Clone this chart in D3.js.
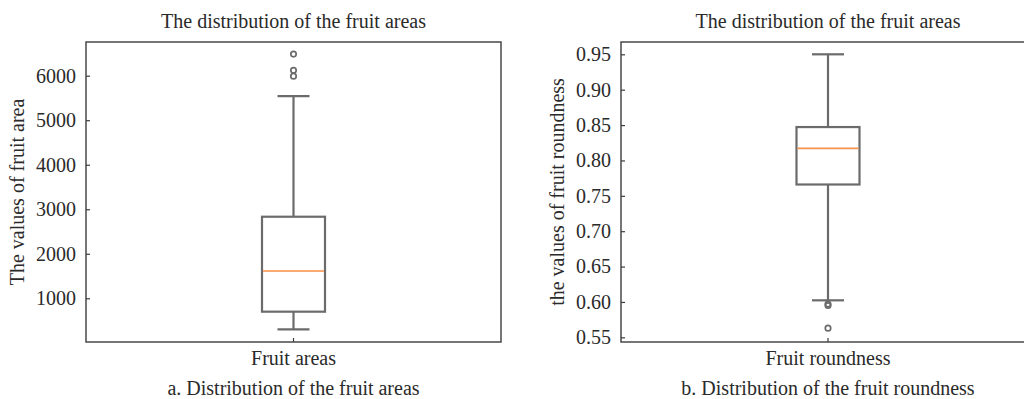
<!DOCTYPE html>
<html>
<head>
<meta charset="utf-8">
<script src="https://cdn.jsdelivr.net/npm/d3@7"></script>
<style>
  html, body { margin: 0; padding: 0; background: #fff; }
  svg { display: block; }
  text { font-family: "Liberation Serif", "Times New Roman", serif; fill: #2a2a2a; }
</style>
</head>
<body>
<svg id="chart" width="1024" height="399"></svg>
<script>
// ---- data ----
const titles = ["The distribution of the fruit areas", "The distribution of the fruit areas"];
const categories = ["Fruit areas", "Fruit roundness"];
const yLabels = ["The values of fruit area", "the values of fruit roundness"];
const captions = ["a. Distribution of the fruit areas", "b. Distribution of the fruit roundness"];

const whiskerLow = [303, 0.6023];
const q1 = [699, 0.766];
const median = [1613, 0.817];
const q3 = [2832, 0.8472];
const whiskerHigh = [5543, 0.95];
const outliersArea = [5990, 6120, 6485];
const outliersRound = [0.597, 0.595, 0.563];

const yLimitsArea = [18, 6757];
const yLimitsRound = [0.5434, 0.9674];
const yTicksArea = [1000, 2000, 3000, 4000, 5000, 6000];
const yTicksRound = [0.55, 0.60, 0.65, 0.70, 0.75, 0.80, 0.85, 0.90, 0.95];

// ---- layout ----
const svg = d3.select("#chart");
const panels = [
  { left: 86, right: 501, limits: yLimitsArea, ticks: yTicksArea, fmt: d3.format("d"), outliers: outliersArea, ylabX: 17 },
  { left: 621, right: 1035, limits: yLimitsRound, ticks: yTicksRound, fmt: d3.format(".2f"), outliers: outliersRound, ylabX: 557 }
];
const plotTop = 42, plotBottom = 342;
const fs = 20;
const serif = "'Liberation Serif', 'Times New Roman', serif";

panels.forEach((p, i) => {
  const g = svg.append("g");
  const x = d3.scaleBand().domain([categories[i]]).range([p.left, p.right]);
  const y = d3.scaleLinear().domain(p.limits).range([plotBottom, plotTop]);
  const cx = x(categories[i]) + x.bandwidth() / 2;
  const boxW = 63, capW = 32;
  const lineCol = "#6b6b6b";

  // whiskers
  g.append("line").attr("x1", cx).attr("x2", cx).attr("y1", y(q3[i])).attr("y2", y(whiskerHigh[i]))
    .attr("stroke", lineCol).attr("stroke-width", 2.2);
  g.append("line").attr("x1", cx).attr("x2", cx).attr("y1", y(q1[i])).attr("y2", y(whiskerLow[i]))
    .attr("stroke", lineCol).attr("stroke-width", 2.2);
  // caps
  [whiskerHigh[i], whiskerLow[i]].forEach(v => {
    g.append("line").attr("x1", cx - capW / 2).attr("x2", cx + capW / 2).attr("y1", y(v)).attr("y2", y(v))
      .attr("stroke", lineCol).attr("stroke-width", 2.2);
  });
  // box
  g.append("rect").attr("x", cx - boxW / 2).attr("width", boxW)
    .attr("y", y(q3[i])).attr("height", y(q1[i]) - y(q3[i]))
    .attr("fill", "none").attr("stroke", lineCol).attr("stroke-width", 2.2);
  // median
  g.append("line").attr("x1", cx - boxW / 2 + 1).attr("x2", cx + boxW / 2 - 1)
    .attr("y1", y(median[i])).attr("y2", y(median[i]))
    .attr("stroke", i === 0 ? "#fbaa74" : "#f7924c").attr("stroke-width", i === 0 ? 2.2 : 1.8);
  // outliers
  g.selectAll("circle.out").data(p.outliers).enter().append("circle")
    .attr("cx", cx).attr("cy", d => y(d)).attr("r", 2.7)
    .attr("fill", "none").attr("stroke", "#6b6b6b").attr("stroke-width", 1.7);

  // frame
  g.append("rect").attr("x", p.left).attr("y", plotTop).attr("width", p.right - p.left).attr("height", plotBottom - plotTop)
    .attr("fill", "none").attr("stroke", "#3c3c3c").attr("stroke-width", 1.4);

  // y axis (ticks inward)
  const yAxis = d3.axisLeft(y).tickValues(p.ticks).tickFormat(p.fmt).tickSizeInner(-4).tickSizeOuter(0).tickPadding(10);
  const ya = g.append("g").attr("transform", `translate(${p.left},0)`).call(yAxis);
  ya.attr("font-family", null).attr("font-size", null);
  ya.select(".domain").remove();
  ya.selectAll("line").attr("stroke", "#3c3c3c").attr("stroke-width", 1.2);
  ya.selectAll("text").style("font-size", fs + "px").style("font-family", serif).attr("fill", "#2a2a2a");

  // x axis (ticks inward)
  const xAxis = d3.axisBottom(x).tickSizeInner(-4).tickSizeOuter(0).tickPadding(9);
  const xa = g.append("g").attr("transform", `translate(0,${plotBottom})`).call(xAxis);
  xa.attr("font-family", null).attr("font-size", null);
  xa.select(".domain").remove();
  xa.selectAll("line").attr("stroke", "#3c3c3c").attr("stroke-width", 1.2);
  xa.selectAll("text").style("font-size", fs + "px").style("font-family", serif).attr("fill", "#2a2a2a");

  // title
  g.append("text").attr("x", cx).attr("y", 28).attr("text-anchor", "middle")
    .style("font-size", fs + "px").style("font-family", serif).text(titles[i]);
  // y label
  g.append("text").attr("transform", `translate(${p.ylabX + 7},${(plotTop + plotBottom) / 2}) rotate(-90)`)
    .attr("text-anchor", "middle").style("font-size", fs + "px").style("font-family", serif).text(yLabels[i]);
  // caption
  g.append("text").attr("x", cx).attr("y", 395).attr("text-anchor", "middle")
    .style("font-size", fs + "px").style("font-family", serif).text(captions[i]);
});
</script>
</body>
</html>
